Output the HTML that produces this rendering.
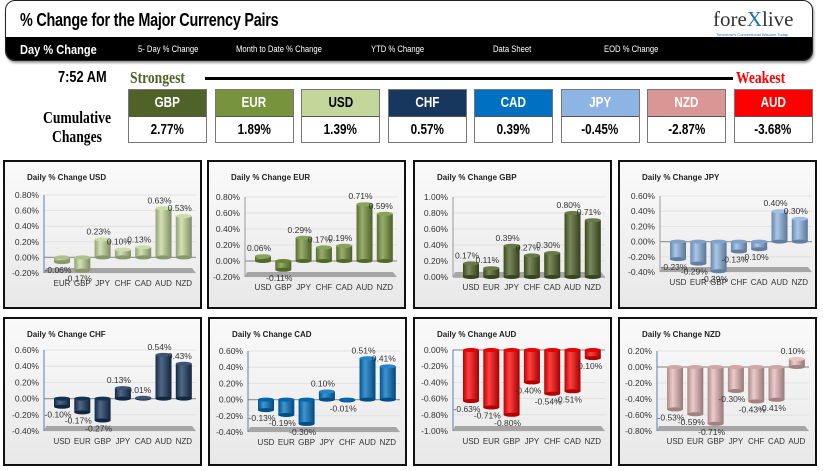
<!DOCTYPE html>
<html><head><meta charset="utf-8"><style>
body{margin:0;width:823px;height:471px;background:#fff;position:relative;overflow:hidden;font-family:"Liberation Sans",Arial,sans-serif}
.abs{position:absolute}
.hdr{left:5px;top:0;width:806px;height:59px;border:1px solid #222;border-radius:10px;overflow:hidden;background:#fff;box-shadow:1px 2px 2px #999}
.title{left:14px;top:9px;font-weight:bold;font-size:18px;letter-spacing:-0.3px;transform:scaleX(0.8);transform-origin:left;white-space:nowrap}
.bar{left:0;top:36px;width:806px;height:23px;background:#000;color:#fff}
.bar span{position:absolute;top:7px;font-size:9px;transform:scaleX(0.85);transform-origin:left;white-space:nowrap}
.box{width:77px;height:52px;border:1px solid #777}
.box .h{height:26px;line-height:26px;text-align:center;font-weight:bold;font-size:15px;color:#fff;border-bottom:1px solid #555}
.box .v{height:25px;line-height:25px;text-align:center;font-weight:bold;font-size:15px;background:#fff}
.box span{display:inline-block;transform:scaleX(0.78)}
.big{font-weight:bold;font-size:16px;transform:scaleX(0.8);transform-origin:left;white-space:nowrap}
</style></head><body>
<div class="abs hdr">
 <div class="abs title">% Change for the Major Currency Pairs</div>
 <div class="abs" style="left:707px;top:6px;font-family:'Liberation Serif',serif;font-size:21px;color:#333">fore<span style="color:#1f6fb5">X</span>live</div>
 <div class="abs" style="left:710px;top:31px;font-size:4px;color:#1f6fb5">Tomorrow's Conventional Wisdom Today</div>
 <div class="abs bar">
  <span style="left:14px;top:5px;font-size:13px;font-weight:bold">Day % Change</span>
  <span style="left:132px">5- Day % Change</span>
  <span style="left:230px">Month to Date % Change</span>
  <span style="left:365px">YTD % Change</span>
  <span style="left:487px">Data Sheet</span>
  <span style="left:598px">EOD % Change</span>
 </div>
</div>
<div class="abs big" style="left:58px;top:69px">7:52 AM</div>
<div class="abs big" style="left:130px;top:68px;color:#4f6228;font-family:'Liberation Serif',serif;font-size:17px">Strongest</div>
<div class="abs" style="left:205px;top:77px;width:528px;height:3px;background:#000"></div>
<div class="abs big" style="left:736px;top:68px;color:#f00;font-family:'Liberation Serif',serif;font-size:17px">Weakest</div>
<div class="abs big" style="left:43px;top:108px;text-align:center;line-height:19px;font-family:'Liberation Serif',serif;font-size:17px">Cumulative<br>Changes</div>
<div id="boxes"></div>
<div id="charts"></div>
<script>
const rankNames=['GBP','EUR','USD','CHF','CAD','JPY','NZD','AUD'];
const rankVals=[2.77,1.89,1.39,0.57,0.39,-0.45,-2.87,-3.68];
const rankColors=['#4f6228','#77933c','#c4d79b','#17375e','#0070c0','#8db4e2','#da9694','#ff0000'];
const bx=document.getElementById('boxes');
rankNames.forEach((n,i)=>{
 const d=document.createElement('div');
 d.className='abs box';
 d.style.left=(128+i*86.5)+'px';d.style.top='89px';
 
 
 d.innerHTML='<div class="h" style="background:'+rankColors[i]+';color:'+(i==2?'#000':'#fff')+'"><span>'+n+'</span></div><div class="v"><span>'+rankVals[i].toFixed(2)+'%</span></div>';
 bx.appendChild(d);
});

const usdCats=['EUR','GBP','JPY','CHF','CAD','AUD','NZD'];
const usdVals=[-0.06,-0.17,0.23,0.10,0.13,0.63,0.53];
const usdTicks=[-0.2,0,0.2,0.4,0.6,0.8];
const eurCats=['USD','GBP','JPY','CHF','CAD','AUD','NZD'];
const eurVals=[0.06,-0.11,0.29,0.17,0.19,0.71,0.59];
const eurTicks=[-0.2,0,0.2,0.4,0.6,0.8];
const gbpCats=['USD','EUR','JPY','CHF','CAD','AUD','NZD'];
const gbpVals=[0.17,0.11,0.39,0.27,0.30,0.80,0.71];
const gbpTicks=[0,0.2,0.4,0.6,0.8,1.0];
const jpyCats=['USD','EUR','GBP','CHF','CAD','AUD','NZD'];
const jpyVals=[-0.23,-0.29,-0.39,-0.13,-0.10,0.40,0.30];
const jpyTicks=[-0.4,-0.2,0,0.2,0.4,0.6];
const chfCats=['USD','EUR','GBP','JPY','CAD','AUD','NZD'];
const chfVals=[-0.10,-0.17,-0.27,0.13,0.01,0.54,0.43];
const chfTicks=[-0.4,-0.2,0,0.2,0.4,0.6];
const cadCats=['USD','EUR','GBP','JPY','CHF','AUD','NZD'];
const cadVals=[-0.13,-0.19,-0.30,0.10,-0.01,0.51,0.41];
const cadTicks=[-0.4,-0.2,0,0.2,0.4,0.6];
const audCats=['USD','EUR','GBP','JPY','CHF','CAD','NZD'];
const audVals=[-0.63,-0.71,-0.80,-0.40,-0.54,-0.51,-0.10];
const audTicks=[-1.0,-0.8,-0.6,-0.4,-0.2,0];
const nzdCats=['USD','EUR','GBP','JPY','CHF','CAD','AUD'];
const nzdVals=[-0.53,-0.59,-0.71,-0.30,-0.43,-0.41,0.10];
const nzdTicks=[-0.8,-0.6,-0.4,-0.2,0,0.2];

const charts=[
 {id:'usd',title:'Daily % Change USD',cats:usdCats,vals:usdVals,ticks:usdTicks,color:'#c4d79b',x:3,y:160,top:35,bot:113,ax:41,axc:'#4f81bd'},
 {id:'eur',title:'Daily % Change EUR',cats:eurCats,vals:eurVals,ticks:eurTicks,color:'#77933c',x:207,y:160,top:37,bot:117,ax:38,axc:'#999'},
 {id:'gbp',title:'Daily % Change GBP',cats:gbpCats,vals:gbpVals,ticks:gbpTicks,color:'#4f6228',x:413,y:160,top:37,bot:117,ax:40,axc:'#999'},
 {id:'jpy',title:'Daily % Change JPY',cats:jpyCats,vals:jpyVals,ticks:jpyTicks,color:'#8db4e2',x:618,y:160,top:36,bot:112,ax:42,axc:'#999'},
 {id:'chf',title:'Daily % Change CHF',cats:chfCats,vals:chfVals,ticks:chfTicks,color:'#17375e',x:3,y:317,top:33,bot:114,ax:41,axc:'#4f81bd'},
 {id:'cad',title:'Daily % Change CAD',cats:cadCats,vals:cadVals,ticks:cadTicks,color:'#0070c0',x:208,y:317,top:34,bot:115,ax:40,axc:'#4f81bd'},
 {id:'aud',title:'Daily % Change AUD',cats:audCats,vals:audVals,ticks:audTicks,color:'#ff0000',x:413,y:317,top:33,bot:114,ax:40,axc:'#4f81bd'},
 {id:'nzd',title:'Daily % Change NZD',cats:nzdCats,vals:nzdVals,ticks:nzdTicks,color:'#e6b9b8',x:618,y:317,top:34,bot:114,ax:39,axc:'#4f81bd'}
];
const NS='http://www.w3.org/2000/svg';
function el(t,a,p){const e=document.createElementNS(NS,t);for(const k in a)e.setAttribute(k,a[k]);p.appendChild(e);return e;}
function shade(hex,f){let n=parseInt(hex.slice(1),16),r=n>>16,g=(n>>8)&255,b=n&255;
 const m=c=>Math.max(0,Math.min(255,Math.round(f<0?c*(1+f):c+(255-c)*f)));return 'rgb('+m(r)+','+m(g)+','+m(b)+')';}
const host=document.getElementById('charts');
charts.forEach(c=>{
 const svg=document.createElementNS(NS,'svg');
 svg.setAttribute('width',199);svg.setAttribute('height',149);
 svg.style.position='absolute';svg.style.left=c.x+'px';svg.style.top=c.y+'px';
 
 
 host.appendChild(svg);
 const defs=el('defs',{},svg);
 const bg=el('linearGradient',{id:'bg'+c.id,x1:0,y1:0,x2:0,y2:1},defs);
 el('stop',{offset:0,'stop-color':'#fafafa'},bg);el('stop',{offset:1,'stop-color':'#e8e8e8'},bg);
 const g=el('linearGradient',{id:'g'+c.id,x1:0,y1:0,x2:1,y2:0},defs);
 el('stop',{offset:0,'stop-color':shade(c.color,-0.25)},g);
 el('stop',{offset:0.35,'stop-color':shade(c.color,0.25)},g);
 el('stop',{offset:1,'stop-color':shade(c.color,-0.35)},g);
 const frame=el('rect',{x:1,y:1,width:197,height:147,fill:'url(#bg'+c.id+')',stroke:'#111','stroke-width':2},svg);
 
 
 const t=el('text',{x:24,y:20,'font-size':8,'font-weight':'bold',fill:'#222'},svg);
 t.textContent=c.title;
 
 
 const mn=c.ticks[0],mx=c.ticks[c.ticks.length-1];
 const ys=v=>c.top+(mx-v)/(mx-mn)*(c.bot-c.top);
 const xs=i=>c.ax+18+i*20.3;
 const right=c.ax+152;
 c.ticks.forEach(v=>{
  const y=ys(v);
  const gl=el('line',{x1:c.ax,x2:right,y1:y,y2:y,stroke:v===0?'#999':'#ddd','stroke-width':v===0?1.2:0.8},svg);
  
  
  const tl=el('text',{x:c.ax-5,y:y+3,'font-size':8.5,'text-anchor':'end',fill:'#333'},svg);
  tl.textContent=v.toFixed(2)+'%';
  
  
 });
 const fl=el('polygon',{points:(c.ax+2)+','+(c.bot-5)+' '+(right-4)+','+(c.bot-5)+' '+right+','+c.bot+' '+c.ax+','+c.bot,fill:'#a6a6a6'},svg);
 
 
 const axl=el('line',{x1:c.ax,x2:c.ax,y1:c.top,y2:c.bot,stroke:c.axc,'stroke-width':1},svg);
 
 
 const y0=ys(0);
 c.vals.forEach((v,i)=>{
  const cx=xs(i),w=16,yv=ys(v);
  const top=Math.min(y0,yv),h=Math.abs(yv-y0);
  const b=el('rect',{x:cx-w/2,y:top,width:w,height:Math.max(h,0.5),fill:'url(#g'+c.id+')'},svg);
  
  
  el('ellipse',{cx:cx,cy:top+h,rx:w/2,ry:2,fill:shade(c.color,-0.3)},svg);
  el('ellipse',{cx:cx,cy:top,rx:w/2,ry:2,fill:shade(c.color,v>=0?0.15:-0.1)},svg);
  const vl=el('text',{x:cx-4,y:v>=0?yv-5:yv+11,'font-size':8.5,'text-anchor':'middle',fill:'#333'},svg);
  vl.textContent=v.toFixed(2)+'%';
  
  
  const cl=el('text',{x:cx,y:c.bot+13,'font-size':8,'text-anchor':'middle',fill:'#333'},svg);
  cl.textContent=c.cats[i];
  
  
 });
});
</script>
</body></html>
